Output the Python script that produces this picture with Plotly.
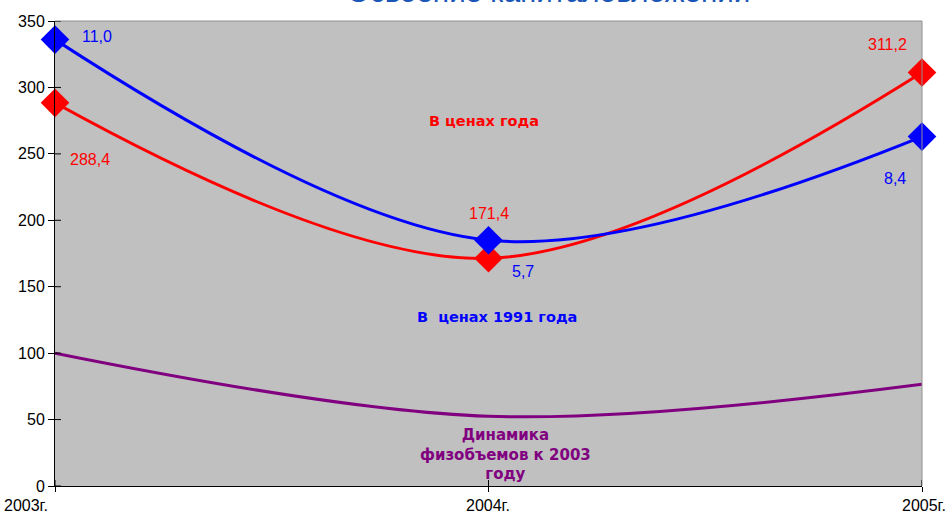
import plotly.graph_objects as go

years = ["2003г.", "2004г.", "2005г."]
x_pos = [0, 1, 2]
current_prices = [288.4, 171.4, 311.2]
prices_1991 = [336.0, 185.0, 263.0]
volume_index = [100.0, 52.5, 76.5]

red_labels = ["288,4", "171,4", "311,2"]
blue_labels = ["11,0", "5,7", "8,4"]
y_ticks = [0, 50, 100, 150, 200, 250, 300, 350]

RED = "#FF0000"
BLUE = "#0000FF"
PURPLE = "#800080"
FONT = "Liberation Sans, Arial"
BFONT = "DejaVu Sans, Arial"

fig = go.Figure()
fig.add_trace(go.Scatter(x=x_pos, y=volume_index, mode="lines",
                         line=dict(color=PURPLE, width=3, shape="spline", smoothing=1.0),
                         hoverinfo="skip"))
fig.add_trace(go.Scatter(x=x_pos, y=current_prices, mode="lines+markers",
                         line=dict(color=RED, width=3, shape="spline", smoothing=1.0),
                         marker=dict(symbol="diamond", size=22, color=RED),
                         cliponaxis=False))
fig.add_trace(go.Scatter(x=x_pos, y=prices_1991, mode="lines+markers",
                         line=dict(color=BLUE, width=3, shape="spline", smoothing=1.0),
                         marker=dict(symbol="diamond", size=22, color=BLUE),
                         cliponaxis=False))

ann = []
red_off = [(35, 57), (0, -45), (-35, -28)]
blue_off = [(42, -3), (34, 31), (-27, 42)]
for i in range(3):
    ann.append(dict(x=x_pos[i], y=current_prices[i], text=red_labels[i], showarrow=True,
                    arrowcolor="rgba(0,0,0,0)", ax=red_off[i][0], ay=red_off[i][1],
                    font=dict(color=RED, size=16, family=FONT)))
    ann.append(dict(x=x_pos[i], y=prices_1991[i], text=blue_labels[i], showarrow=True,
                    arrowcolor="rgba(0,0,0,0)", ax=blue_off[i][0], ay=blue_off[i][1],
                    font=dict(color=BLUE, size=16, family=FONT)))

ann.append(dict(x=0.99, y=275, text="<b>В ценах года</b>", showarrow=False,
                font=dict(color=RED, size=14.5, family=BFONT)))
ann.append(dict(x=1.02, y=127, text="<b>В  ценах 1991 года</b>", showarrow=False,
                font=dict(color=BLUE, size=14.5, family=BFONT)))
ann.append(dict(x=1.04, y=24, text="<b>Динамика<br>физобъемов к 2003<br>году</b>", showarrow=False,
                font=dict(color=PURPLE, size=15, family=BFONT)))

# category labels
plot_l, plot_r = 55, 922
plot_t, plot_b = 21, 486
anchors = ["left", "center", "right"]
px_x = [2, 488, 948]
for i in range(3):
    ann.append(dict(x=(px_x[i] - plot_l) / (plot_r - plot_l), xref="paper", y=0, yref="paper",
                    text=years[i], showarrow=False, xanchor=anchors[i], yanchor="top", yshift=-9,
                    font=dict(color="black", size=16, family=FONT)))

# cut-off title (only its lower edge shows, as in the reference)
ann.append(dict(x=(548 - plot_l) / (plot_r - plot_l), xref="paper", y=1.0, yref="paper",
                yshift=11, text="Освоение капиталовложений", showarrow=False, yanchor="bottom",
                xanchor="center", font=dict(color="#1A56B8", size=29.5, family=FONT)))

# tick marks crossing into the plot area (Excel style)
shapes = [dict(type="line", xref="paper", yref="paper", x0=0, x1=1, y0=1, y1=1,
               line=dict(color="#909090", width=1)),
          dict(type="line", xref="paper", yref="paper", x0=1, x1=1, y0=0, y1=1,
               line=dict(color="#909090", width=1))]
for t in y_ticks:
    shapes.append(dict(type="line", xref="paper", yref="y", x0=0, x1=6 / (plot_r - plot_l),
                       y0=t, y1=t, line=dict(color="black", width=1)))
for xv in x_pos:
    shapes.append(dict(type="line", xref="x", yref="paper", x0=xv, x1=xv, y0=0,
                       y1=6 / (plot_b - plot_t), line=dict(color="black", width=1)))

fig.update_layout(
    width=950, height=521,
    margin=dict(l=55, r=28, t=21, b=35),
    plot_bgcolor="#C0C0C0", paper_bgcolor="white",
    showlegend=False,
    annotations=ann,
    shapes=shapes,
    xaxis=dict(range=[0, 2], tickvals=x_pos, ticktext=["", "", ""], showgrid=False,
               zeroline=False, showline=True, linecolor="black", linewidth=1,
               ticks="outside", ticklen=5, tickcolor="black", mirror=False),
    yaxis=dict(range=[0, 350], tickvals=y_ticks, showgrid=False, zeroline=False,
               showline=True, linecolor="black", linewidth=1, ticks="outside", ticklen=6,
               tickcolor="black",
               tickfont=dict(size=16, color="black", family=FONT)),
)

fig.write_html("out.html", config={"displayModeBar": False},
               post_script="document.body.style.margin='0';document.body.style.overflow='hidden';")
